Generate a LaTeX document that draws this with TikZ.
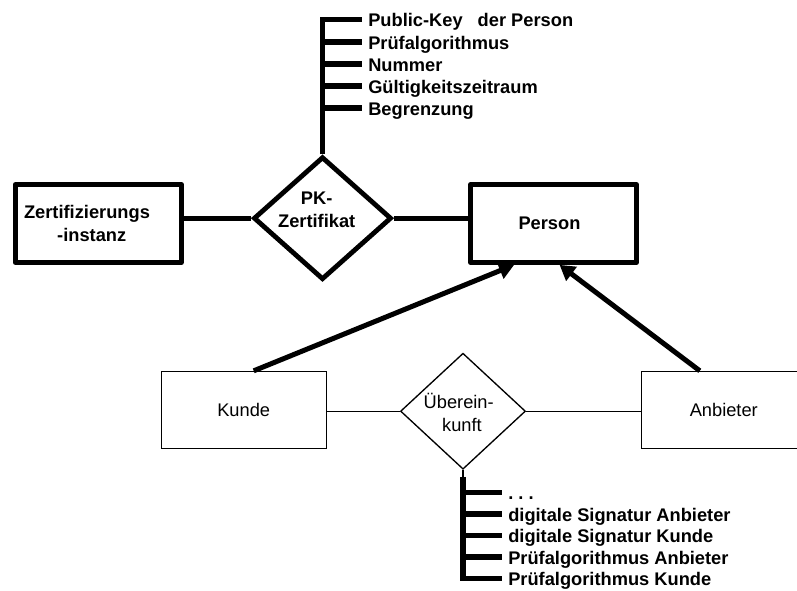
\documentclass[tikz,border=0pt]{standalone}
\usepackage{fontspec}
\setmainfont{Liberation Sans}
\usetikzlibrary{arrows.meta,shapes.geometric,calc}

\begin{document}
\begin{tikzpicture}[x=0.75pt, y=-0.75pt,
  txt/.style={inner sep=0pt, font=\fontsize{13.7pt}{16.9pt}\selectfont},
  btxt/.style={inner sep=0pt, font=\fontsize{13.7pt}{16.9pt}\selectfont\bfseries},
  keyentity/.style={btxt, draw, rectangle, line width=3.6pt, line join=round,
    minimum width=124.5pt, minimum height=58.5pt, align=center},
  plainentity/.style={txt, draw, rectangle, line width=1pt,
    minimum width=123.75pt, minimum height=57.75pt},
  keyrel/.style={draw, diamond, line width=3.6pt, inner sep=0pt,
    minimum width=103.5pt, minimum height=92.25pt},
  plainrel/.style={draw, diamond, line width=1pt, inner sep=0pt,
    minimum width=93.75pt, minimum height=87pt},
  heavy/.style={line width=3.6pt},
  light/.style={line width=1pt},
  tree/.style={line width=4.1pt, line join=miter},
  isa/.style={line width=3.75pt, -{Triangle[length=11.25pt, width=12.75pt]}},
]
\useasboundingbox (0,0) rectangle (797,591);
\clip (0,0) rectangle (797,591);
\fill[white] (0,0) rectangle (797,591);

% entities
\node[keyentity] (zert) at (98.25,223.5) {Zertifizierungs\kern16.9pt\\-instanz\kern9.75pt};
\node[keyentity] (person) at (553.5,223.5) {Person\kern6pt};
\node[plainentity] (kunde) at (243.7,410) {Kunde};
\node[plainentity] (anbieter) at (723.8,410) {Anbieter};

% relationships
\node[keyrel] (pk) at (322.5,218.2) {};
\node[btxt, anchor=base] (pk-a) at (316.7,205) {PK-};
\node[btxt, anchor=base] (pk-b) at (316.7,228) {Zertifikat};
\node[plainrel] (ueb) at (463,411.2) {};
\node[txt, anchor=base] (ueb-a) at (458.7,409) {Überein-};
\node[txt, anchor=base] (ueb-b) at (462,432) {kunft};

% links between entities and relationships
\draw[heavy] (zert.east |- pk.west) -- (pk.west);
\draw[heavy] (pk.east) -- (pk.east -| person.west);
\draw[light] (kunde.east |- ueb.west) -- (ueb.west);
\draw[light] (ueb.east) -- (ueb.east -| anbieter.west);

% specialisations of Person
\draw[isa] ($(kunde.north)+(10,0)$) -- ($(person.south west)+(46,0)$);
\draw[isa] ($(anbieter.north)+(-24,0)$) -- ($(person.south west)+(91.5,0)$);

% attributes of the certificate
\foreach \i/\yy in {1/19.5,2/42,3/64,4/86,5/108}{
  \coordinate (pkt\i) at (322.5,\yy);
  \coordinate (pke\i) at (362,\yy);
}
\draw[tree] (pk.north) -- (pkt1) -- (pke1);
\foreach \i in {2,...,5} \draw[tree] (pkt\i) -- (pke\i);
\node[btxt, anchor=base west] (pka1) at (368,27) {Public-Key\kern7.5pt\ der Person};
\node[btxt, anchor=base west] (pka2) at (368,49.5) {Prüfalgorithmus};
\node[btxt, anchor=base west] (pka3) at (368,71.5) {Nummer};
\node[btxt, anchor=base west] (pka4) at (368,93.5) {Gültigkeitszeitraum};
\node[btxt, anchor=base west] (pka5) at (368,115.5) {Begrenzung};

% attributes of the agreement
\foreach \i/\yy in {1/492.5,2/514,3/535.5,4/557,5/578.5}{
  \coordinate (ubt\i) at (463,\yy);
  \coordinate (ube\i) at (502,\yy);
}
\coordinate (ubs) at (463,477);
\draw[light] (ueb.south) -- (ubs);
\draw[tree] (ubs) -- (ubt5) -- (ube5);
\foreach \i in {1,...,4} \draw[tree] (ubt\i) -- (ube\i);
\node[btxt, anchor=base west] (uba1) at (508,500) {.\ .\ .};
\node[btxt, anchor=base west] (uba2) at (508,521.5) {digitale Signatur Anbieter};
\node[btxt, anchor=base west] (uba3) at (508,543) {digitale Signatur Kunde};
\node[btxt, anchor=base west] (uba4) at (508,564.5) {Prüfalgorithmus Anbieter};
\node[btxt, anchor=base west] (uba5) at (508,586) {Prüfalgorithmus Kunde};
\end{tikzpicture}
\end{document}
